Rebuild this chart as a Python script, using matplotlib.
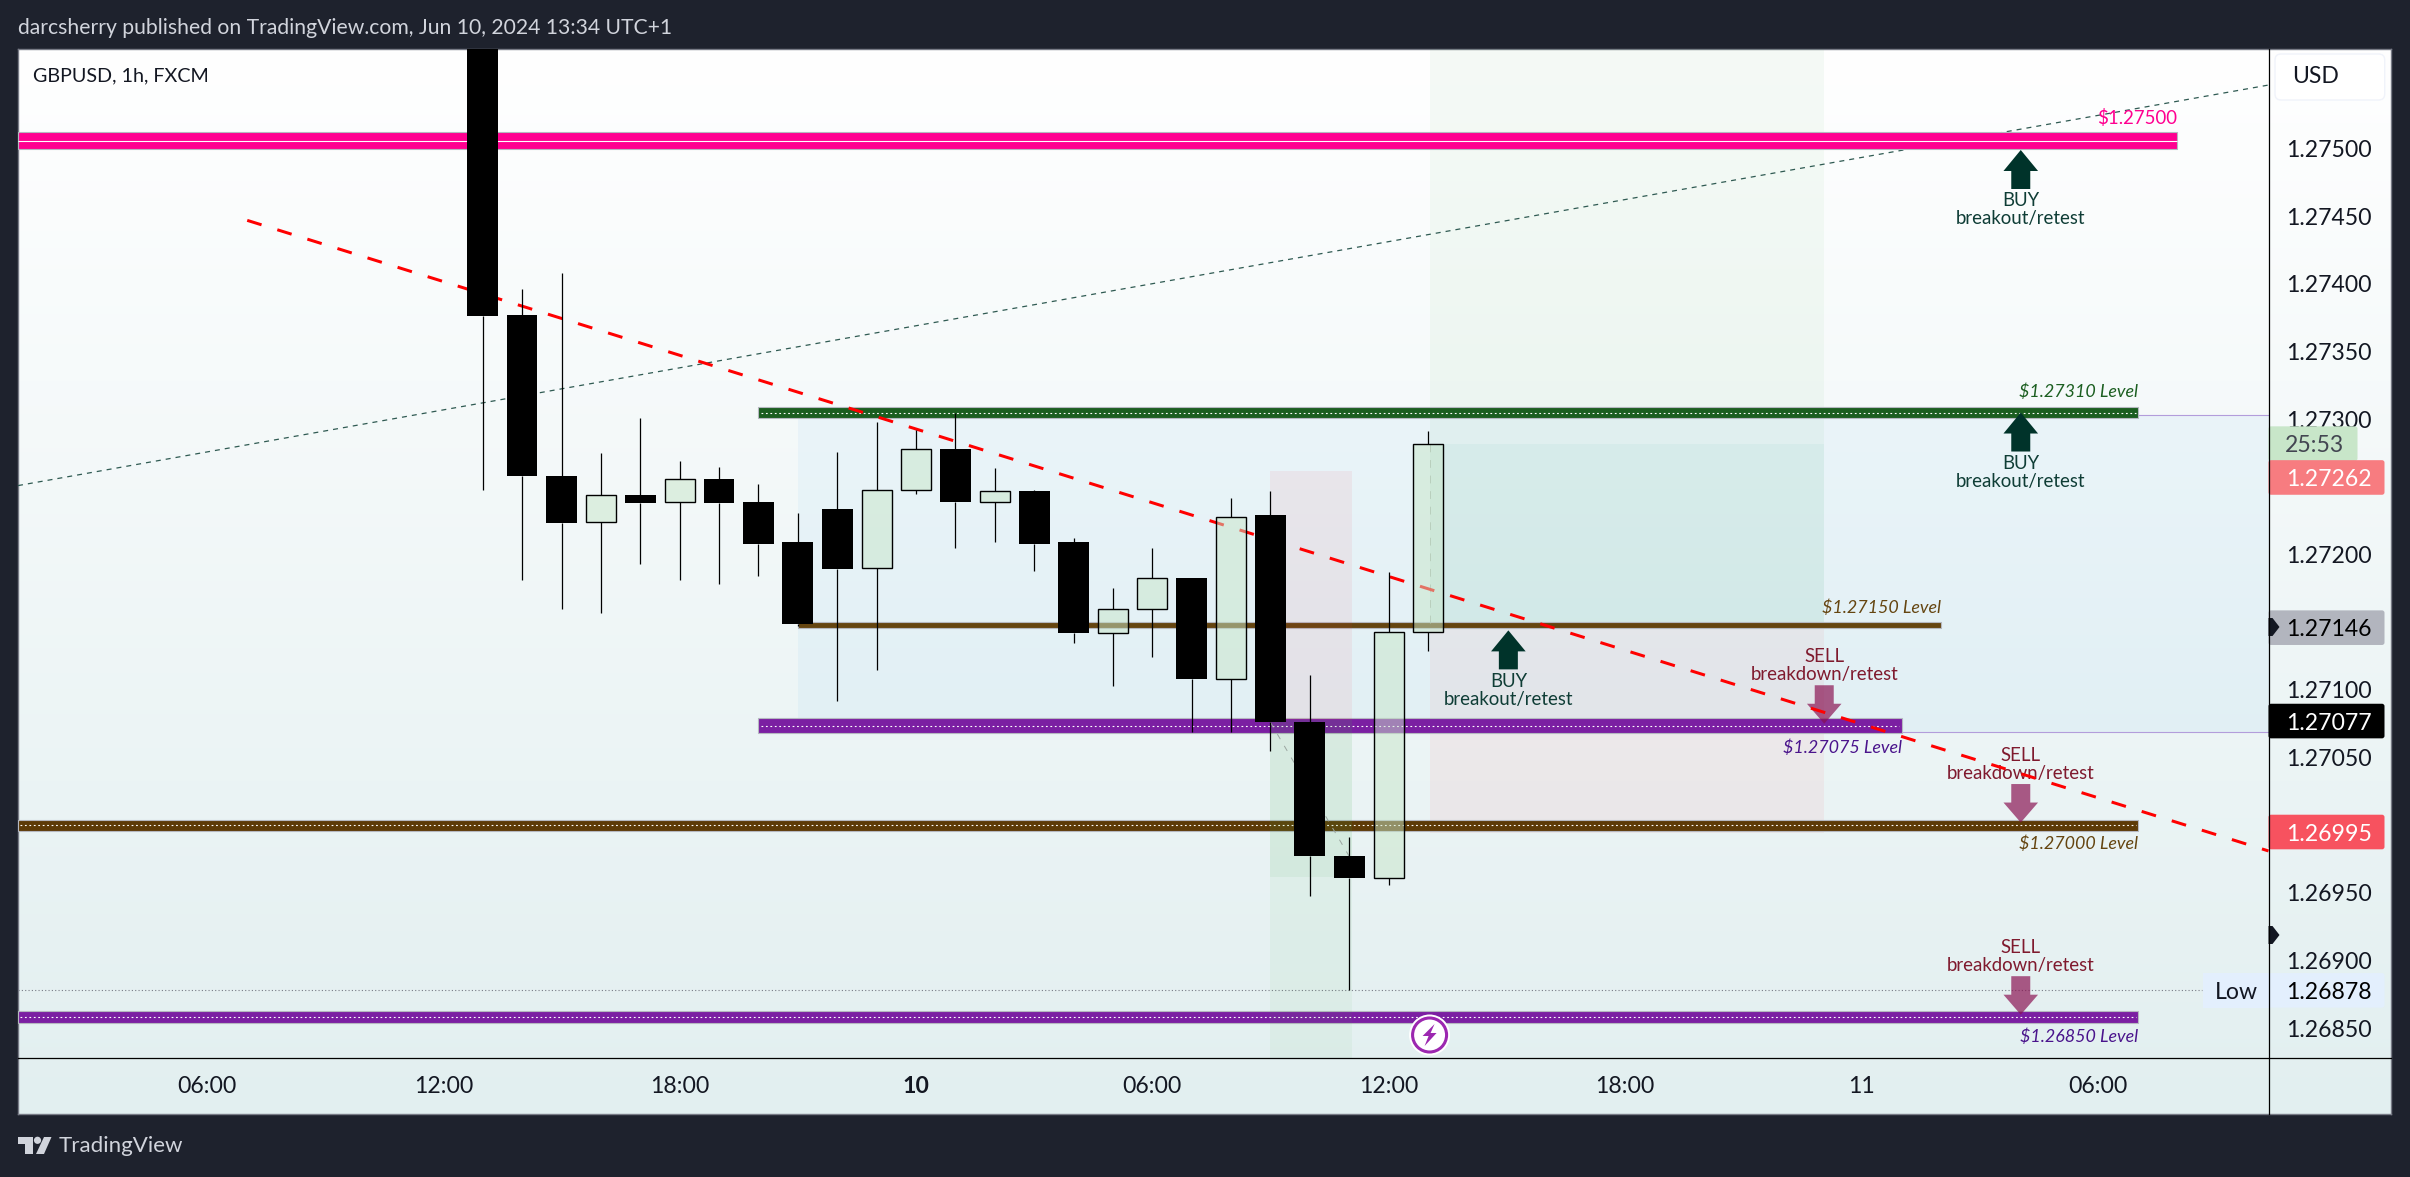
import numpy as np
import matplotlib
matplotlib.use("Agg")

import matplotlib.pyplot as plt
from matplotlib.colors import LinearSegmentedColormap
from matplotlib.patches import Rectangle, Polygon, FancyBboxPatch, Circle
from matplotlib.transforms import Affine2D, ScaledTranslation

plt.rcParams["font.family"] = ["Lato", "DejaVu Sans"]

# candles, x is hours counted from the 06:00 start of the first day label
hours = [13, 14, 15, 16, 17, 18, 19, 20, 21, 22, 23, 24, 25, 26, 27, 28, 29, 30, 31, 32, 33, 34, 35, 36, 37]
opens = [1.27650, 1.27377, 1.27258, 1.27224, 1.27244, 1.27239, 1.27256, 1.27239, 1.27209, 1.27234, 1.27190, 1.27248,
         1.27278, 1.27239, 1.27247, 1.27209, 1.27142, 1.27160, 1.27183, 1.27108, 1.27229, 1.27076, 1.26977, 1.26961, 1.27143]
closes = [1.27376, 1.27258, 1.27223, 1.27244, 1.27238, 1.27256, 1.27238, 1.27208, 1.27149, 1.27189, 1.27248, 1.27278,
          1.27239, 1.27247, 1.27208, 1.27142, 1.27160, 1.27183, 1.27108, 1.27228, 1.27076, 1.26977, 1.26961, 1.27143, 1.27282]
highs = [1.27680, 1.27396, 1.27408, 1.27275, 1.27301, 1.27269, 1.27265, 1.27252, 1.27231, 1.27276, 1.27298, 1.27292,
         1.27305, 1.27264, 1.27248, 1.27212, 1.27175, 1.27205, 1.27183, 1.27242, 1.27247, 1.27111, 1.26991, 1.27187, 1.27291]
lows = [1.27248, 1.27181, 1.27160, 1.27157, 1.27193, 1.27181, 1.27178, 1.27184, 1.27147, 1.27092, 1.27115, 1.27245,
        1.27205, 1.27209, 1.27188, 1.27135, 1.27103, 1.27124, 1.27069, 1.27069, 1.27055, 1.26948, 1.26878, 1.26956, 1.27129]

# horizontal level bands
band_starts = [None, 20, 21, 20, None, None]
band_ends = [56.02, 55.03, 50.02, 49.03, 55.03, 55.03]
band_lows = [1.27500, 1.27301, 1.27146, 1.27068, 1.26996, 1.26854]
band_highs = [1.27512, 1.27309, 1.27150, 1.27079, 1.27004, 1.26863]
band_colors = ["#ff0090", "#1b5e20", "#654510", "#7b1fa2", "#5d3a06", "#7b1fa2"]
band_lines = ["-", ":", None, ":", ":", ":"]

level_labels = ["$1.27500", "$1.27310 Level", "$1.27150 Level", "$1.27075 Level", "$1.27000 Level", "$1.26850 Level"]
level_label_prices = [1.27523, 1.27320, 1.27161, 1.27057, 1.26986, 1.26844]
level_label_colors = ["#ff0090", "#1b5e20", "#654510", "#4a148c", "#654510", "#4a148c"]

# trend lines
red_x = [7.02, 58.34]
red_y = [1.27447, 1.26981]
grey_x = [1.2, 58.34]
grey_y = [1.27251, 1.27547]

# arrows
buy_x = [52.05, 52.05, 39.04]
buy_y = [1.27499, 1.27305, 1.27144]
sell_x = [47.06, 52.05, 52.05]
sell_y = [1.27075, 1.27002, 1.26860]

# time and price scale
time_ticks = [6, 12, 18, 24, 30, 36, 42, 48, 54]
time_labels = ["06:00", "12:00", "18:00", "10", "06:00", "12:00", "18:00", "11", "06:00"]
price_ticks = [1.27500, 1.27450, 1.27400, 1.27350, 1.27300, 1.27200, 1.27100, 1.27050, 1.26950, 1.26900, 1.26850]

# tags on the price scale: text, price at tag centre, width, fill, text colour
tag_texts = ["25:53", "1.27262", "1.27146", "1.27077", "1.26995", "1.26878"]
tag_prices = [1.27282, 1.27257, 1.27146, 1.27077, 1.26995, 1.26878]
tag_fills = ["#c8e6c9", "#f77c80", "#b2b5be", "#000000", "#f7525f", "#e3effd"]
tag_colors = ["#434651", "#ffffff", "#000000", "#ffffff", "#ffffff", "#000000"]
tag_widths = [89, 116, 116, 116, 116, 116]

W, H = 2410, 1177
L, R, T, B = 18, 2268.5, 48.5, 1058
FRAME_R, FRAME_B = 2391, 1114
DARK = "#1e222d"
FS = 16.6
NOTE_FS = 13.4


def px_rect(x0, y0, x1, y1):
    return [x0 / W, 1 - y1 / H, (x1 - x0) / W, (y1 - y0) / H]


fig = plt.figure(figsize=(W / 100, H / 100), dpi=100, facecolor=DARK)

# frame and gradient
bg = fig.add_axes(px_rect(L, T, FRAME_R, FRAME_B), zorder=0)
cmap = LinearSegmentedColormap.from_list("pane", ["#ffffff", "#e2eff0"])
bg.imshow(np.linspace(0, 1, 256).reshape(-1, 1), aspect="auto", cmap=cmap)
bg.set_xticks([])
bg.set_yticks([])
for s in bg.spines.values():
    s.set_color("#787b86")
    s.set_linewidth(1)

ax = fig.add_axes(px_rect(L, T, R, B), zorder=1)
ax.patch.set_alpha(0)
xmin, xmax = 1.2, 58.34
ymin, ymax = 1.26828, 1.27574
ax.set_xlim(xmin, xmax)
ax.set_ylim(ymin, ymax)


def at(x, y):
    # offsets in pixels, y down, anchored on a data point
    return Affine2D().scale(1, -1) + ScaledTranslation(x, y, ax.transData)


# shaded zones
ax.add_patch(Rectangle((21, 1.27069), xmax - 21, 1.27303 - 1.27069, fc="#2196f3", alpha=0.05, ec="none", zorder=1))
ax.hlines([1.27303, 1.27069], 21, xmax, color="#b39ddb", lw=0.8, zorder=1)
ax.add_patch(Rectangle((37.04, 1.27147), 10.02, ymax - 1.27147, fc="#4caf50", alpha=0.05, ec="none", zorder=1))
ax.add_patch(Rectangle((37.04, 1.27147), 10.02, 1.27282 - 1.27147, fc="#089981", alpha=0.045, ec="none", zorder=1))
ax.add_patch(Rectangle((37.04, 1.26994), 10.02, 1.27147 - 1.26994, fc="#f23645", alpha=0.06, ec="none", zorder=1))

ax.plot(grey_x, grey_y, color="#2f5a52", lw=0.9, ls=(0, (4, 4)), zorder=1.5)

# level bands
for i in range(len(band_lows)):
    x0 = xmin if band_starts[i] is None else band_starts[i]
    ax.add_patch(Rectangle((x0, band_lows[i]), band_ends[i] - x0, band_highs[i] - band_lows[i],
                           fc=band_colors[i], ec="#b5b8c0", lw=0.8, zorder=2))
    mid = (band_lows[i] + band_highs[i]) / 2
    if band_lines[i] == "-":
        ax.hlines(mid, x0, band_ends[i], color="white", lw=0.8, zorder=2.05)
    elif band_lines[i] == ":":
        ax.hlines(mid, x0 + 0.06, band_ends[i] - 0.06, color="white", lw=0.8, ls=(0, (1.6, 2.4)), zorder=2.05)
    ax.text(band_ends[i], level_label_prices[i], level_labels[i], ha="right", va="center",
            fontsize=13.4 if i == 0 else 12.9, color=level_label_colors[i],
            style="normal" if i == 0 else "italic", zorder=2.3)

# small position box, above the bands
ax.add_patch(Rectangle((33, 1.27078), 2.06, 1.27262 - 1.27078, fc="#f23645", alpha=0.07, ec="none", zorder=2.1))
ax.add_patch(Rectangle((33, ymin), 2.06, 1.27078 - ymin, fc="#4caf50", alpha=0.06, ec="none", zorder=2.1))
ax.add_patch(Rectangle((33, 1.26962), 2.06, 1.27078 - 1.26962, fc="#4caf50", alpha=0.07, ec="none", zorder=2.1))
ax.plot([33, 35], [1.27076, 1.26977], color="#9aa5a0", lw=0.7, ls=(0, (6, 8)), zorder=2.15)
ax.plot([37.04, 37.04], [1.27282, 1.27147], color="#a9b8b0", lw=0.7, ls=(0, (8, 8)), zorder=2.15)

# low line
ax.hlines(1.26878, xmin, 56.65, color="#787b86", lw=0.8, ls=(0, (1, 2)), zorder=1.6)

# arrows and their captions
for x, y in zip(buy_x, buy_y):
    ax.add_patch(Polygon([(0, 0), (17.3, 21), (9.5, 21), (9.5, 39), (-9.5, 39), (-9.5, 21), (-17.3, 21)],
                         transform=at(x, y), fc="#00332a", ec="none", zorder=2.2))
    ax.text(0, 51, "BUY", transform=at(x, y), ha="center", va="center", fontsize=NOTE_FS, color="#0f3d36", zorder=2.3)
    ax.text(0, 69, "breakout/retest", transform=at(x, y), ha="center", va="center", fontsize=NOTE_FS,
            color="#0f3d36", zorder=2.3)
for x, y in zip(sell_x, sell_y):
    ax.add_patch(Polygon([(0, 0), (17.3, -20), (9.5, -20), (9.5, -38.5), (-9.5, -38.5), (-9.5, -20), (-17.3, -20)],
                         transform=at(x, y), fc="#880e4f", alpha=0.68, ec="none", zorder=2.2))
    ax.text(0, -67, "SELL", transform=at(x, y), ha="center", va="center", fontsize=NOTE_FS, color="#7f1a2e", zorder=2.3)
    ax.text(0, -49, "breakdown/retest", transform=at(x, y), ha="center", va="center", fontsize=NOTE_FS,
            color="#7f1a2e", zorder=2.3)

ax.plot(red_x, red_y, color="#ff0000", lw=2.16, ls=(0, (5, 5.5)), dash_capstyle="butt", zorder=2.4)

# candles
o = np.array(opens)
c = np.array(closes)
top = np.maximum(o, c)
bot = np.minimum(o, c)
up = c > o
ax.vlines(hours, top, highs, color="black", lw=0.9, zorder=2.6)
ax.vlines(hours, lows, bot, color="black", lw=0.9, zorder=2.6)
hr = np.array(hours)
ax.bar(hr[~up], (top - bot)[~up], 0.78, bot[~up], color="black", zorder=2.7)
ax.bar(hr[up], (top - bot)[up], 0.76, bot[up], color="#c8e6c980", edgecolor="black", linewidth=1.0, zorder=2.7)

# flash icon on the time line
ax.add_patch(Circle((0, 0), 20.5, transform=at(37.04, 1.26845), fc="white", ec="none", zorder=3, clip_on=False))
ax.add_patch(Circle((0, 0), 17, transform=at(37.04, 1.26845), fc="white", ec="#9c27b0", lw=2.2, zorder=3.1, clip_on=False))
ax.add_patch(Polygon([(5, -11), (-7, 1), (-1, 1), (-5, 11), (7, -2), (1, -2)], transform=at(37.04, 1.26845),
                     fc="#9c27b0", ec="none", zorder=3.2, clip_on=False))

# scales
ax.yaxis.tick_right()
ax.set_xticks(time_ticks)
ax.set_xticklabels(time_labels, fontsize=FS, color="#131722")
for lbl, txt in zip(ax.get_xticklabels(), time_labels):
    if txt == "10":
        lbl.set_fontweight("bold")
ax.set_yticks(price_ticks)
ax.set_yticklabels([f"{p:.5f}" for p in price_ticks], fontsize=FS, color="#131722", va="center_baseline")
ax.tick_params(axis="x", length=0, pad=13)
ax.tick_params(axis="y", length=0, pad=13)
for s in ax.spines.values():
    s.set_visible(False)

# price tags
for txt, p, fill, col, w in zip(tag_texts, tag_prices, tag_fills, tag_colors, tag_widths):
    tr = at(xmax, p)
    ax.add_patch(FancyBboxPatch((0, -17.3), w, 34.6, boxstyle="round,pad=0,rounding_size=2.5", transform=tr,
                                fc=fill, ec="none", zorder=10, clip_on=False))
    ax.text(18 if w > 100 else 16, 0, txt, transform=tr, ha="left", va="center_baseline", fontsize=FS, color=col, zorder=11)
ax.add_patch(Rectangle((-65.5, -17.3), 65.5, 34.6, transform=at(xmax, 1.26878), fc="#e3effd", ec="none", zorder=10))
ax.text(-32, 0, "Low", transform=at(xmax, 1.26878), ha="center", va="center_baseline", fontsize=FS, color="#131722", zorder=11)

# pixel overlay for the chrome
ov = fig.add_axes([0, 0, 1, 1], zorder=2)
ov.set_xlim(0, W)
ov.set_ylim(H, 0)
ov.axis("off")

ov.plot([R, R], [T, FRAME_B], color="black", lw=0.9)
ov.plot([L, FRAME_R], [B, B], color="black", lw=0.9)

# handles on the price scale
for y in [627, 935]:
    ov.add_patch(Polygon([(R, y - 9), (R + 4, y - 9), (R + 11, y), (R + 4, y + 9), (R, y + 9)], fc="#131722", ec="none"))

ov.add_patch(FancyBboxPatch((2275, 54), 109.7, 46, boxstyle="round,pad=0,rounding_size=6", fc="white", ec="#f0f3fa", lw=1))
ov.text(2291.7, 76.7, "USD", ha="left", va="center", fontsize=FS, color="#131722")

ov.text(18, 27.7, "darcsherry published on TradingView.com, Jun 10, 2024 13:34 UTC+1", ha="left", va="center",
        fontsize=15.25, color="#d1d4dc")
ov.text(32.6, 76, "GBPUSD, 1h, FXCM", ha="left", va="center", fontsize=14.2, color="#131722")

# logo
ov.add_patch(Polygon([(18.4, 1137), (33, 1137), (33, 1154), (25, 1154), (25, 1143.5), (18.4, 1143.5)], fc="#d1d4dc", ec="none"))
ov.add_patch(Circle((37.5, 1140.3), 3.6, fc="#d1d4dc", ec="none"))
ov.add_patch(Polygon([(44, 1137), (51.5, 1137), (44, 1154), (36, 1154)], fc="#d1d4dc", ec="none"))
ov.text(59, 1146, "TradingView", ha="left", va="center", fontsize=16, color="#d1d4dc")

fig.savefig("out.png", dpi=100, facecolor=DARK)
